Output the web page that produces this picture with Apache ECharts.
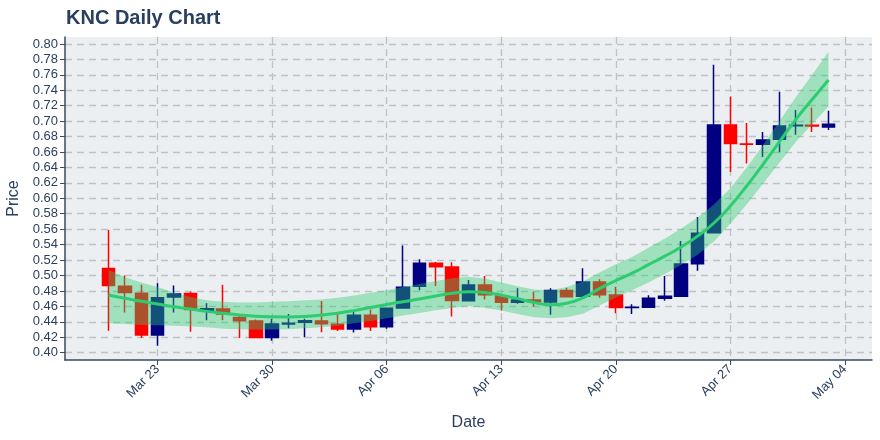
<!DOCTYPE html>
<html>
<head>
<meta charset="utf-8">
<script src="https://cdn.jsdelivr.net/npm/echarts@6/dist/echarts.min.js"></script>
<style>
html,body{margin:0;padding:0;background:#fff;}
#chart{width:880px;height:440px;}
</style>
</head>
<body>
<div id="chart"></div>
<script>
// ---- data ----
const startDate = '2020-03-20';
const dates = ['2020-03-20','2020-03-21','2020-03-22','2020-03-23','2020-03-24','2020-03-25','2020-03-26','2020-03-27','2020-03-28','2020-03-29',
 '2020-03-30','2020-03-31','2020-04-01','2020-04-02','2020-04-03','2020-04-04','2020-04-05','2020-04-06','2020-04-07','2020-04-08',
 '2020-04-09','2020-04-10','2020-04-11','2020-04-12','2020-04-13','2020-04-14','2020-04-15','2020-04-16','2020-04-17','2020-04-18',
 '2020-04-19','2020-04-20','2020-04-21','2020-04-22','2020-04-23','2020-04-24','2020-04-25','2020-04-26','2020-04-27','2020-04-28',
 '2020-04-29','2020-04-30','2020-05-01','2020-05-02','2020-05-03'];
const openP  = [0.509,0.486,0.477,0.423,0.472,0.4765,0.455,0.4566,0.4455,0.441,
 0.4195,0.437,0.4395,0.441,0.4368,0.4307,0.4485,0.4337,0.458,0.486,
 0.516,0.511,0.4674,0.4877,0.4735,0.4653,0.4684,0.4657,0.4804,0.473,
 0.4916,0.4748,0.4584,0.459,0.4705,0.473,0.5153,0.5555,0.695,0.6705,
 0.670,0.6765,0.694,0.6945,0.6925];
const highP  = [0.559,0.500,0.488,0.490,0.487,0.479,0.464,0.488,0.450,0.443,
 0.444,0.450,0.444,0.467,0.450,0.455,0.456,0.458,0.539,0.521,
 0.5175,0.517,0.494,0.4994,0.475,0.4834,0.479,0.4834,0.484,0.5094,
 0.495,0.4855,0.4627,0.4744,0.4994,0.5447,0.5758,0.773,0.732,0.6977,
 0.686,0.738,0.7145,0.7175,0.7136];
const lowP   = [0.4285,0.452,0.419,0.409,0.452,0.427,0.442,0.442,0.419,0.419,
 0.4155,0.4316,0.420,0.4265,0.428,0.426,0.428,0.431,0.457,0.481,
 0.4865,0.4467,0.4666,0.469,0.4545,0.4635,0.4596,0.449,0.4718,0.4725,
 0.471,0.451,0.450,0.459,0.4674,0.473,0.5063,0.5545,0.634,0.645,
 0.6536,0.6597,0.6825,0.686,0.6886];
const closeP = [0.487,0.478,0.423,0.471,0.476,0.456,0.457,0.450,0.4415,0.4195,
 0.437,0.438,0.4415,0.4376,0.4307,0.4485,0.4337,0.4575,0.4847,0.516,
 0.5114,0.4675,0.4877,0.475,0.4653,0.4684,0.466,0.4804,0.4726,0.4916,
 0.4752,0.4584,0.459,0.4705,0.473,0.515,0.5547,0.695,0.671,0.670,
 0.6757,0.6938,0.6947,0.6938,0.696];
const trendLine = [0.4748,0.4705,0.4665,0.463,0.4595,0.4565,0.4535,0.451,0.4488,0.4472,
 0.4465,0.4463,0.447,0.4488,0.4512,0.4545,0.4585,0.4625,0.466,0.4695,
 0.4735,0.477,0.479,0.478,0.4745,0.470,0.465,0.462,0.464,0.471,
 0.483,0.4935,0.503,0.514,0.525,0.537,0.551,0.568,0.590,0.616,
 0.644,0.673,0.702,0.728,0.7534];
const bandUpper = [0.507,0.498,0.491,0.485,0.478,0.472,0.468,0.466,0.465,0.465,
 0.466,0.4665,0.468,0.469,0.471,0.474,0.4775,0.481,0.485,0.489,
 0.493,0.4965,0.4985,0.496,0.491,0.486,0.482,0.481,0.485,0.4925,
 0.504,0.5145,0.524,0.536,0.548,0.561,0.575,0.592,0.613,0.640,
 0.669,0.700,0.731,0.760,0.790];
const bandLower = [0.438,0.437,0.436,0.4355,0.435,0.434,0.433,0.431,0.4305,0.430,
 0.430,0.4305,0.4315,0.433,0.435,0.438,0.441,0.4445,0.448,0.4515,
 0.455,0.458,0.4605,0.458,0.4545,0.450,0.446,0.4445,0.446,0.4505,
 0.461,0.4715,0.481,0.491,0.502,0.514,0.527,0.544,0.567,0.592,
 0.619,0.646,0.673,0.696,0.719];
const xTickDates  = ['2020-03-23','2020-03-30','2020-04-06','2020-04-13','2020-04-20','2020-04-27','2020-05-04'];
const xTickLabels = ['Mar 23','Mar 30','Apr 06','Apr 13','Apr 20','Apr 27','May 04'];
const yTicks = [0.40,0.42,0.44,0.46,0.48,0.50,0.52,0.54,0.56,0.58,0.60,0.62,0.64,0.66,0.68,0.70,0.72,0.74,0.76,0.78,0.80];

// ---- build ----
const DAY = 86400000;
const t0 = Date.parse(startDate);
const dayOf = s => Math.round((Date.parse(s) - t0) / DAY);
const xs = dates.map(dayOf);
const tickDays = xTickDates.map(dayOf);
const labelMap = {};
tickDays.forEach((d, i) => { labelMap[d] = xTickLabels[i]; });

const candleData = xs.map((x, i) => [x, openP[i], closeP[i], lowP[i], highP[i]]);
const lineData = xs.map((x, i) => [x, trendLine[i]]);

const FONT = 'Liberation Sans, Arial, sans-serif';
const textColor = '#2a3f5f';
const axisColor = '#3b4a5c';
const gridLine = { show: true, lineStyle: { color: '#bfc2c5', width: 1.3, type: [7, 5] } };

const chart = echarts.init(document.getElementById('chart'), null, { renderer: 'canvas' });
chart.setOption({
  animation: false,
  backgroundColor: '#ffffff',
  title: {
    text: 'KNC Daily Chart', left: 61, top: 3,
    textStyle: { fontFamily: FONT, fontSize: 20, fontWeight: 'bold', color: textColor }
  },
  grid: { left: 65, right: 8, top: 37, bottom: 80, show: true, backgroundColor: '#eceff1', borderWidth: 0,
          containLabel: false, outerBoundsMode: 'none' },
  xAxis: {
    type: 'value', min: -2.665, max: 46.66,
    name: 'Date', nameLocation: 'middle', nameGap: 55,
    nameTextStyle: { fontFamily: FONT, fontSize: 16, color: textColor },
    axisLine: { show: true, onZero: false, lineStyle: { color: axisColor, width: 1.5 } },
    axisTick: { show: true, customValues: tickDays, length: 5, lineStyle: { color: axisColor } },
    axisLabel: {
      customValues: tickDays, rotate: 45, margin: 7,
      fontFamily: FONT, fontSize: 13, color: textColor,
      formatter: v => labelMap[Math.round(v)] || ''
    },
    splitLine: gridLine
  },
  yAxis: {
    type: 'value', min: 0.3905, max: 0.809,
    name: 'Price', nameLocation: 'middle', nameGap: 36,
    nameTextStyle: { fontFamily: FONT, fontSize: 16, color: textColor },
    axisLine: { show: true, onZero: false, lineStyle: { color: axisColor, width: 1.5 } },
    axisTick: { show: true, customValues: yTicks, length: 5, lineStyle: { color: axisColor } },
    axisLabel: {
      customValues: yTicks, margin: 7,
      fontFamily: FONT, fontSize: 13, color: textColor,
      formatter: v => v.toFixed(2)
    },
    splitLine: gridLine
  },
  series: [
    {
      type: 'candlestick', z: 2, barWidth: 13,
      encode: { x: 0, y: [1, 2, 3, 4] },
      data: candleData,
      itemStyle: { color: '#000080', color0: '#ff0000', borderColor: '#000080', borderColor0: '#ff0000', borderWidth: 1.5 }
    },
    {
      type: 'custom', z: 3, silent: true, clip: true,
      data: [[xs[0], bandLower[0]]],
      encode: { x: 0, y: 1 },
      renderItem: function (params, api) {
        const pts = [];
        for (let i = 0; i < xs.length; i++) pts.push(api.coord([xs[i], bandUpper[i]]));
        for (let i = xs.length - 1; i >= 0; i--) pts.push(api.coord([xs[i], bandLower[i]]));
        return { type: 'polygon', shape: { points: pts }, style: { fill: 'rgba(46,204,113,0.4)', stroke: null } };
      }
    },
    {
      type: 'line', z: 4, data: lineData, smooth: true, symbol: 'none',
      lineStyle: { color: '#2ecc71', width: 3 }
    }
  ]
});
</script>
</body>
</html>
